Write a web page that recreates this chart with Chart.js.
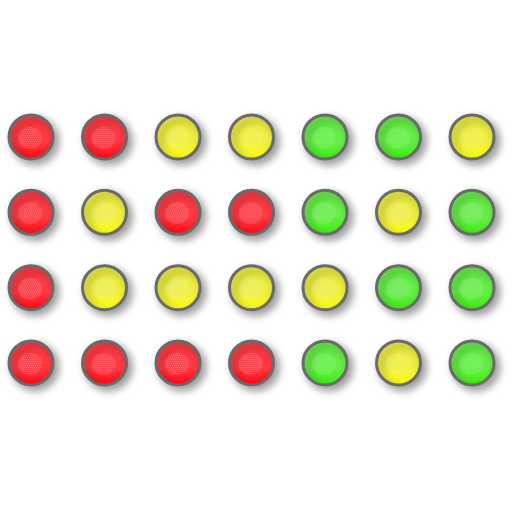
<!DOCTYPE html>
<html lang="en">
<head>
  <meta charset="UTF-8">
  <title>Status lights</title>
  <script src="https://cdn.jsdelivr.net/npm/chart.js"></script>
  <style>
    html, body { margin: 0; padding: 0; background: #ffffff; }
    .wrap { width: 512px; height: 512px; }
  </style>
</head>
<body>
  <div class="wrap"><canvas id="lights"></canvas></div>
  <script>
    // grid of status lights, one array per row (R = red, Y = yellow, G = green)
    const columns = [0, 1, 2, 3, 4, 5, 6];
    const row1 = ["R", "R", "Y", "Y", "G", "G", "Y"];
    const row2 = ["R", "Y", "R", "R", "G", "Y", "G"];
    const row3 = ["R", "Y", "Y", "Y", "Y", "G", "G"];
    const row4 = ["R", "R", "R", "R", "G", "Y", "G"];
    const rows = [row1, row2, row3, row4];

    const statusNames = { R: "Red", Y: "Yellow", G: "Green" };
    const statusColors = {
      R: { top: "#ff3a44", bottom: "#ff0a14" },
      Y: { top: "#eeee44", bottom: "#ffff10" },
      G: { top: "#66ee48", bottom: "#3cf010" }
    };

    function pointsFor(code) {
      const pts = [];
      rows.forEach((row, r) => {
        row.forEach((s, c) => {
          if (s === code) pts.push({ x: columns[c], y: r });
        });
      });
      return pts;
    }

    function fillFor(code) {
      return function(context) {
        const chart = context.chart;
        const sx = chart.scales.x, sy = chart.scales.y;
        if (!context.parsed || !sx || !sy) return statusColors[code].top;
        const py = sy.getPixelForValue(context.parsed.y);
        if (!isFinite(py)) return statusColors[code].top;
        const g = chart.ctx.createLinearGradient(0, py - 22, 0, py + 22);
        g.addColorStop(0, statusColors[code].top);
        g.addColorStop(0.6, statusColors[code].top);
        g.addColorStop(1, statusColors[code].bottom);
        return g;
      };
    }

    const datasets = Object.keys(statusNames).map(code => ({
      label: statusNames[code],
      data: pointsFor(code),
      backgroundColor: fillFor(code),
      borderColor: "#6a6a6a",
      borderWidth: 3,
      pointRadius: 22,
      pointHoverRadius: 22
    }));

    // soft drop shadow behind each light
    const shadowPlugin = {
      id: "shadow",
      beforeDatasetDraw(chart) {
        const ctx = chart.ctx;
        ctx.save();
        ctx.shadowColor = "rgba(0,0,0,0.4)";
        ctx.shadowBlur = 8;
        ctx.shadowOffsetX = 4;
        ctx.shadowOffsetY = 4;
      },
      afterDatasetDraw(chart) {
        chart.ctx.restore();
      }
    };

    // pale dotted highlight in the middle of each light
    const glossPlugin = {
      id: "gloss",
      afterDatasetsDraw(chart) {
        const ctx = chart.ctx;
        chart.data.datasets.forEach((ds, i) => {
          chart.getDatasetMeta(i).data.forEach(el => {
            ctx.save();
            ctx.beginPath();
            ctx.ellipse(el.x - 1, el.y + 1, 12, 11, 0, 0, Math.PI * 2);
            ctx.clip();
            ctx.fillStyle = "rgba(255,255,255,0.08)";
            ctx.fillRect(el.x - 14, el.y - 12, 28, 26);
            ctx.fillStyle = "rgba(255,255,255,0.18)";
            for (let yy = -10; yy <= 12; yy += 2) {
              for (let xx = -13 + (yy & 2 ? 1 : 0); xx <= 12; xx += 2) {
                ctx.fillRect(el.x + xx, el.y + yy, 1, 1);
              }
            }
            ctx.restore();
          });
        });
      }
    };

    new Chart(document.getElementById("lights"), {
      type: "scatter",
      data: { datasets: datasets },
      options: {
        responsive: true,
        maintainAspectRatio: false,
        animation: false,
        layout: { padding: 0, autoPadding: false },
        plugins: {
          legend: { display: false },
          tooltip: { enabled: false }
        },
        scales: {
          x: { type: "linear", display: false, min: -0.422, max: 6.544 },
          y: { type: "linear", display: false, reverse: true, min: -1.818, max: 4.978 }
        }
      },
      plugins: [shadowPlugin, glossPlugin]
    });
  </script>
</body>
</html>
